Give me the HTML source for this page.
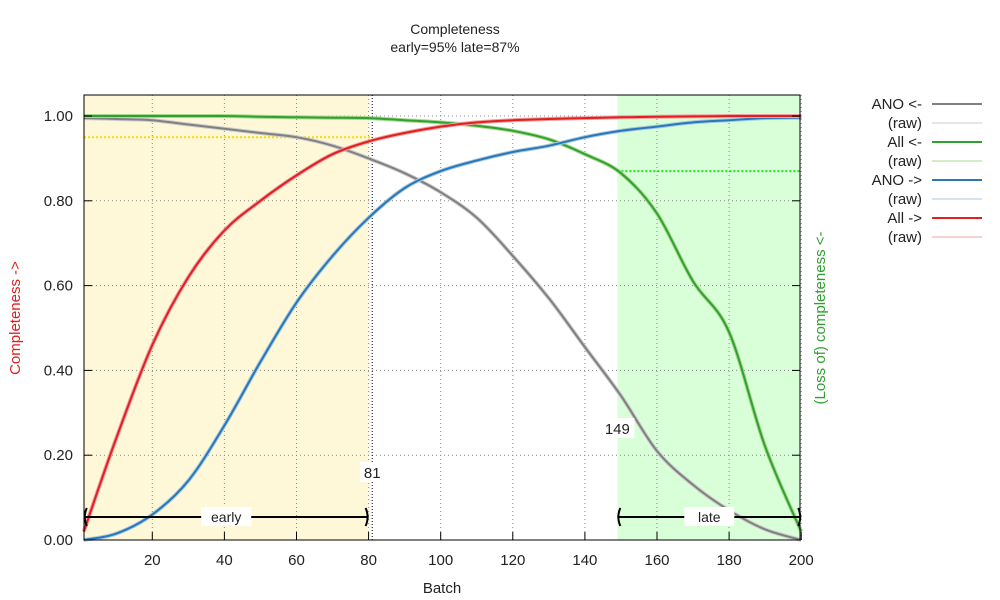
<!DOCTYPE html>
<html><head><meta charset="utf-8"><style>
body{margin:0;background:#fff}
svg{font-family:"Liberation Sans","DejaVu Sans",sans-serif;display:block}
</style></head><body>
<svg id="chart" width="1000" height="600" viewBox="0 0 1000 600">
<text x="455" y="34" font-size="14" text-anchor="middle" fill="#222">Completeness</text>
<text x="455" y="52" font-size="14" text-anchor="middle" fill="#222">early=95% late=87%</text>
<g id="bg"></g><g id="grid"></g><g id="marks"></g><g id="axes"></g><g id="legend"></g>
<text transform="translate(20,318) rotate(-90)" font-size="15" text-anchor="middle" fill="#e02020">Completeness -&gt;</text>
<text transform="translate(825,318) rotate(-90)" font-size="15" text-anchor="middle" fill="#30a030">(Loss of) completeness &lt;-</text>
<text x="442" y="593" font-size="15" text-anchor="middle" fill="#222">Batch</text>
</svg>
<script>
const xs = [1,10,20,30,40,50,60,70,80,90,100,110,120,130,140,150,160,170,180,190,200];
const allFwd = [0.02,0.24,0.46,0.62,0.73,0.80,0.86,0.91,0.94,0.96,0.975,0.985,0.99,0.993,0.995,0.997,0.998,0.999,1.0,1.0,1.0];
const anoFwd = [0,0.015,0.06,0.14,0.27,0.42,0.56,0.67,0.76,0.83,0.87,0.895,0.915,0.93,0.95,0.965,0.975,0.985,0.99,0.995,0.996];
const anoBack = [0.995,0.993,0.99,0.98,0.97,0.96,0.95,0.93,0.90,0.865,0.82,0.76,0.67,0.57,0.455,0.34,0.21,0.13,0.07,0.025,0];
const allBack = [1.0,1.0,1.0,1.0,1.0,0.998,0.997,0.996,0.995,0.99,0.985,0.977,0.965,0.945,0.91,0.865,0.77,0.61,0.49,0.22,0.02];
const xTicks = [20,40,60,80,100,120,140,160,180,200];
const yTicks = [0,0.2,0.4,0.6,0.8,1.0];
const earlyBatch = 81, lateBatch = 149, earlyLevel = 0.95, lateLevel = 0.87;

const L=84,R=800,T=95,B=540;
const X=v=>80.2+(v)*3.605;
const Y=v=>540-v*424;
const NS='http://www.w3.org/2000/svg';
function mk(tag,attrs,parent,txt){const e=document.createElementNS(NS,tag);for(const k in attrs)e.setAttribute(k,attrs[k]);if(txt!==undefined)e.textContent=txt;document.getElementById(parent).appendChild(e);return e;}

let e;
e=mk('rect',{x:L,y:T,width:X(earlyBatch-1)-L,height:B-T,fill:'#fff8d8'},'bg');


e=mk('rect',{x:X(lateBatch),y:T,width:R-X(lateBatch),height:B-T,fill:'#d8ffd8'},'bg');



xTicks.forEach(t=>{
  e=mk('line',{x1:X(t),x2:X(t),y1:T,y2:B,stroke:'#888','stroke-dasharray':'1,3'},'grid');
  
  
  e=mk('text',{x:X(t),y:565,'font-size':15,'text-anchor':'middle',fill:'#222'},'axes',String(t));
  
  
  mk('line',{x1:X(t),x2:X(t),y1:B,y2:B-8,stroke:'#000'},'axes');
});
yTicks.forEach(t=>{
  e=mk('line',{x1:L,x2:R,y1:Y(t),y2:Y(t),stroke:'#888','stroke-dasharray':'1,3'},'grid');
  
  
  e=mk('text',{x:73,y:Y(t)+5,'font-size':15,'text-anchor':'end',fill:'#222'},'axes',t.toFixed(2));
  
  
  mk('line',{x1:L,x2:L+8,y1:Y(t),y2:Y(t),stroke:'#000'},'axes');
  mk('line',{x1:R,x2:R-8,y1:Y(t),y2:Y(t),stroke:'#000'},'axes');
});
e=mk('rect',{x:L,y:T,width:R-L,height:B-T,fill:'none',stroke:'#000'},'axes');



// threshold lines
e=mk('line',{x1:L,x2:X(earlyBatch),y1:Y(earlyLevel),y2:Y(earlyLevel),stroke:'#ffd800','stroke-width':2,'stroke-dasharray':'2,2'},'marks');


e=mk('line',{x1:X(lateBatch),x2:R,y1:Y(lateLevel),y2:Y(lateLevel),stroke:'#20e020','stroke-width':2,'stroke-dasharray':'2,2'},'marks');


e=mk('line',{x1:X(earlyBatch),x2:X(earlyBatch),y1:T,y2:B,stroke:'#000','stroke-dasharray':'1,2'},'marks');



function smooth(vals){
  const p=xs.map((x,i)=>[X(x),Y(vals[i])]);
  let d='M'+p[0][0]+','+p[0][1];
  for(let i=0;i<p.length-1;i++){
    const p0=p[Math.max(0,i-1)],p1=p[i],p2=p[i+1],p3=p[Math.min(p.length-1,i+2)];
    const c1=[p1[0]+(p2[0]-p0[0])/6,p1[1]+(p2[1]-p0[1])/6];
    const c2=[p2[0]-(p3[0]-p1[0])/6,p2[1]-(p3[1]-p1[1])/6];
    d+=` C${c1[0].toFixed(1)},${c1[1].toFixed(1)} ${c2[0].toFixed(1)},${c2[1].toFixed(1)} ${p2[0].toFixed(1)},${p2[1].toFixed(1)}`;
  }
  return d;
}
const series=[[anoBack,'#808080','#ccc','ano-backward'],[allBack,'#30a030','#a8d890','all-backward'],[anoFwd,'#2878b8','#a8c8e0','ano-forward'],[allFwd,'#e02020','#f0a0a0','all-forward']];
series.forEach(s=>{
  e=mk('path',{d:smooth(s[0]),fill:'none',stroke:s[2],'stroke-width':4},'marks');
  
  
  e=mk('path',{d:smooth(s[0]),fill:'none',stroke:s[1],'stroke-width':2},'marks');
  
  
});

// range arrows
function range(x1,x2,label,name){
  const y=517;
  e=mk('line',{x1:X(x1),x2:X(x2),y1:y,y2:y,stroke:'#000','stroke-width':2},'marks');
  
  
  mk('path',{d:`M${X(x1)+3},${y-9} Q${X(x1)-1},${y} ${X(x1)+3},${y+9}`,fill:'none',stroke:'#000','stroke-width':2},'marks');
  mk('path',{d:`M${X(x2)-3},${y-9} Q${X(x2)+1},${y} ${X(x2)-3},${y+9}`,fill:'none',stroke:'#000','stroke-width':2},'marks');
  const cx=(X(x1)+X(x2))/2;
  mk('rect',{x:cx-25,y:y-10,width:50,height:19,fill:'#fff'},'marks');
  e=mk('text',{x:cx,y:y+5,'font-size':14,'text-anchor':'middle',fill:'#222'},'marks',label);
  
  
}
range(1,80,'early','early');
range(lateBatch,200,'late','late');
mk('rect',{x:X(earlyBatch)-12,y:462,width:24,height:20,fill:'#fff'},'marks');
e=mk('text',{x:X(earlyBatch),y:478,'font-size':15,'text-anchor':'middle',fill:'#222'},'marks',String(earlyBatch));


mk('rect',{x:X(lateBatch)-17,y:418,width:34,height:20,fill:'#fff'},'marks');
e=mk('text',{x:X(lateBatch),y:434,'font-size':15,'text-anchor':'middle',fill:'#222'},'marks',String(lateBatch));



// legend
const legendLabels=['ANO <-','(raw)','All <-','(raw)','ANO ->','(raw)','All ->','(raw)'];
const legendColors=['#808080','#ccc','#30a030','#a8d890','#2878b8','#a8c8e0','#e02020','#f0a0a0'];
legendLabels.forEach((lab,i)=>{
  const y=104+i*19;
  e=mk('text',{x:922,y:y+5,'font-size':15,'text-anchor':'end',fill:'#222'},'legend',lab);
  
  
  e=mk('line',{x1:932,x2:982,y1:y,y2:y,stroke:legendColors[i],'stroke-width':i%2?1:2},'legend');
  
  
});
</script>
</body></html>
